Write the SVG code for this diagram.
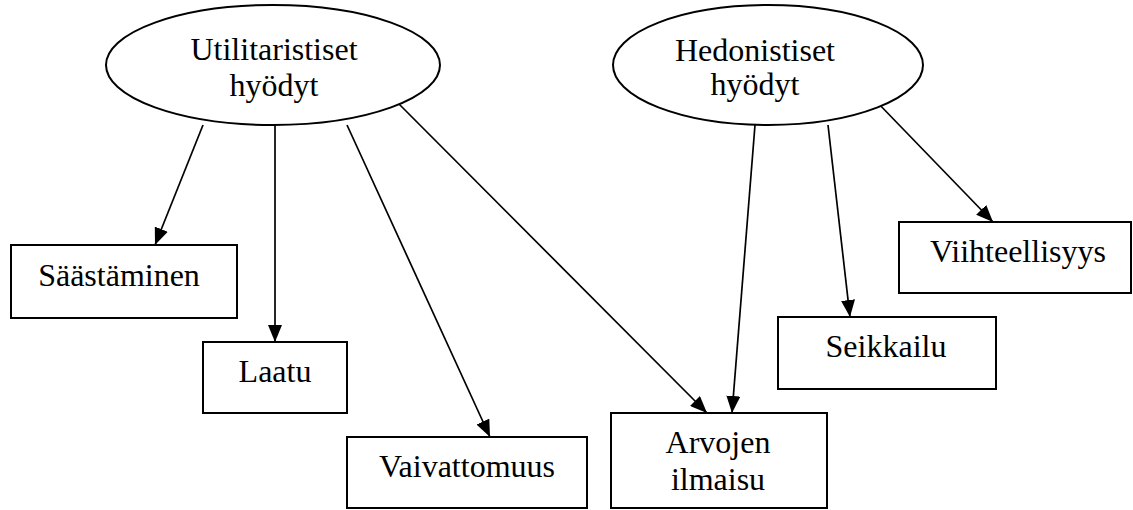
<svg xmlns="http://www.w3.org/2000/svg" width="1133" height="510" viewBox="0 0 1133 510">
  <style>
    .shape { fill: #ffffff; stroke: #000000; stroke-width: 2; }
    .edge { fill: none; stroke: #000000; stroke-width: 1.7; marker-end: url(#arrow); }
    .label { font-family: 'Liberation Serif', 'DejaVu Serif', 'Times New Roman', serif; font-size: 32px; fill: #000000; text-anchor: middle; }
  </style>
  <defs>
    <marker id="arrow" markerUnits="userSpaceOnUse" markerWidth="18" markerHeight="14" refX="17" refY="7" orient="auto">
      <path d="M0,0 L17,7 L0,14 z" fill="#000000"/>
    </marker>
  </defs>
  <rect width="1133" height="510" fill="#ffffff"/>

  <!-- connectors -->
  <g id="connectors">
    <line class="edge" x1="203" y1="125" x2="155" y2="245"/>
    <line class="edge" x1="275" y1="125" x2="275" y2="342"/>
    <line class="edge" x1="347" y1="125" x2="490" y2="437"/>
    <line class="edge" x1="395" y1="100" x2="707" y2="413"/>
    <line class="edge" x1="755" y1="125" x2="732" y2="413"/>
    <line class="edge" x1="828" y1="125" x2="850" y2="317"/>
    <line class="edge" x1="875" y1="100" x2="993" y2="222"/>
  </g>

  <!-- sources -->
  <g id="utilitaristiset">
    <ellipse class="shape" cx="273" cy="65" rx="167" ry="60"/>
    <text class="label" font-family="Liberation Serif, DejaVu Serif, serif" x="274" y="60">Utilitaristiset</text>
    <text class="label" font-family="Liberation Serif, DejaVu Serif, serif" x="274" y="96">hyödyt</text>
  </g>
  <g id="hedonistiset">
    <ellipse class="shape" cx="768" cy="65" rx="155" ry="60"/>
    <text class="label" font-family="Liberation Serif, DejaVu Serif, serif" x="755" y="61">Hedonistiset</text>
    <text class="label" font-family="Liberation Serif, DejaVu Serif, serif" x="755" y="95">hyödyt</text>
  </g>

  <!-- benefits -->
  <g id="saastaminen">
    <rect class="shape" x="11" y="245" width="226" height="73"/>
    <text class="label" font-family="Liberation Serif, DejaVu Serif, serif" x="119" y="286">Säästäminen</text>
  </g>
  <g id="laatu">
    <rect class="shape" x="203" y="342" width="144" height="71"/>
    <text class="label" font-family="Liberation Serif, DejaVu Serif, serif" x="275" y="382">Laatu</text>
  </g>
  <g id="vaivattomuus">
    <rect class="shape" x="347" y="437" width="240" height="71"/>
    <text class="label" font-family="Liberation Serif, DejaVu Serif, serif" x="467" y="477">Vaivattomuus</text>
  </g>
  <g id="arvojen-ilmaisu">
    <rect class="shape" x="611" y="413" width="216" height="95"/>
    <text class="label" font-family="Liberation Serif, DejaVu Serif, serif" x="718" y="453">Arvojen</text>
    <text class="label" font-family="Liberation Serif, DejaVu Serif, serif" x="718" y="490">ilmaisu</text>
  </g>
  <g id="seikkailu">
    <rect class="shape" x="778" y="317" width="218" height="72"/>
    <text class="label" font-family="Liberation Serif, DejaVu Serif, serif" x="886" y="357">Seikkailu</text>
  </g>
  <g id="viihteellisyys">
    <rect class="shape" x="899" y="222" width="232" height="71"/>
    <text class="label" font-family="Liberation Serif, DejaVu Serif, serif" x="1018" y="262">Viihteellisyys</text>
  </g>
</svg>
